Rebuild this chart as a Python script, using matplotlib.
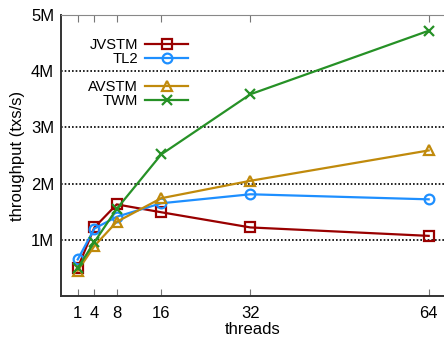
import matplotlib.pyplot as plt
from matplotlib.lines import Line2D

plt.rcParams['font.family'] = ['Liberation Sans', 'DejaVu Sans']

threads = [1, 4, 8, 16, 32, 64]
jvstm = [0.50, 1.22, 1.63, 1.49, 1.22, 1.07]
tl2 = [0.65, 1.20, 1.41, 1.65, 1.81, 1.72]
avstm = [0.45, 0.89, 1.32, 1.74, 2.05, 2.59]
twm = [0.50, 0.96, 1.55, 2.52, 3.59, 4.72]
yticks = [1, 2, 3, 4, 5]
ylabels = ['1M', '2M', '3M', '4M', '5M']

fig = plt.figure(figsize=(4.44, 3.42), dpi=100)
ax = fig.add_axes([61/444, 46/342, 383/444, 281/342])

series = [
    ('JVSTM', jvstm, '#990000', 's'),
    ('TL2', tl2, '#1e8fff', 'o'),
    ('AVSTM', avstm, '#c08a0c', '^'),
    ('TWM', twm, '#269126', 'x'),
]
handles = []
for name, vals, col, mk in series:
    h, = ax.plot(threads, vals, color=col, lw=1.6, marker=mk, ms=7,
                 mfc='none', mec=col, mew=1.6, label=name)
    handles.append(h)

ax.set_xlim(-2, 66.75)
ax.set_ylim(0, 5)
ax.set_xticks(threads)
ax.set_yticks(yticks)
ax.set_yticklabels(ylabels)
ax.tick_params(axis='x', direction='in', length=5, color='#777777',
               top=True, labelsize=12, pad=7)
ax.tick_params(axis='y', length=0, labelsize=12, pad=5)
for y in yticks[:-1]:
    ax.axhline(y, color='black', lw=1.2, ls=(0, (1, 1.2)), zorder=0)

ax.spines['right'].set_visible(False)
ax.spines['top'].set_color('#888888')
ax.spines['left'].set_linewidth(1.4)
ax.spines['bottom'].set_linewidth(1.4)
ax.spines['bottom'].set_color('#333333')
ax.spines['left'].set_color('#333333')

ax.set_xlabel('threads', fontsize=12, labelpad=1)
ax.set_ylabel('throughput (txs/s)', fontsize=12, labelpad=4)

blank = Line2D([], [], color='none')
ax.legend([handles[0], handles[1], blank, handles[2], handles[3]],
          ['JVSTM', 'TL2', '', 'AVSTM', 'TWM'],
          loc='upper right', bbox_to_anchor=(0.332, 0.918), frameon=False,
          markerfirst=False, fontsize=10.6, handlelength=2.9,
          labelspacing=0.0, handletextpad=0.5, borderaxespad=0,
          borderpad=0)

fig.savefig('out.png', dpi=100)
